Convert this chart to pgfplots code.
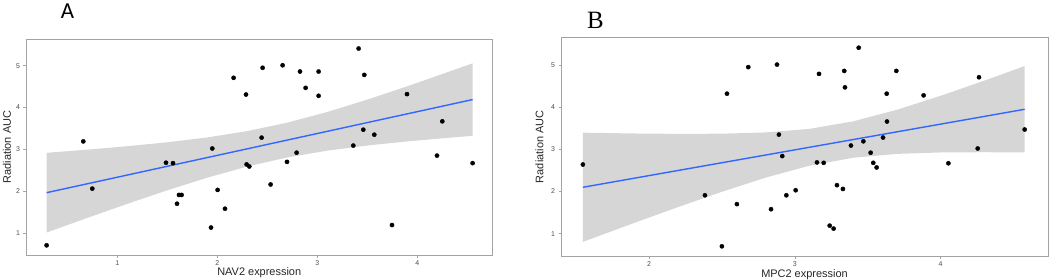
\documentclass[border=0pt]{standalone}
\usepackage{fontspec}
\setmainfont{Liberation Sans}
\newfontfamily\afont{Carlito}
\newfontfamily\bfont{Liberation Serif}
\usepackage{pgfplots}
\pgfplotsset{compat=1.18}
\definecolor{bandgray}{HTML}{999999}
\definecolor{fitblue}{HTML}{3366FF}
\definecolor{bordergray}{HTML}{A3A3A3}
\definecolor{ticktext}{HTML}{4D4D4D}
\pgfplotsset{panel/.style={
  scale only axis, anchor=south west,
  axis line style={bordergray, line width=0.9bp},
  tick style={bordergray, line width=0.6bp},
  tick align=outside, major tick length=2.5bp,
  xtick pos=bottom, ytick pos=left,
  tick label style={font=\fontsize{7}{8}\selectfont, text=ticktext},
  label style={font=\fontsize{11}{13}\selectfont, text=black!85},
  /pgf/number format/assume math mode=true,
  ytick={1,2,3,4,5},
  clip=true,
}}
\begin{document}
\begin{tikzpicture}
\useasboundingbox (0,0) rectangle (1050bp,280bp);
% ---------------- Panel A ----------------
\begin{axis}[panel, at={(26bp,25bp)}, width=466.5bp, height=216bp,
  xmin=0.087, xmax=4.752, ymin=0.474, ymax=5.638, xtick={1,2,3,4},
  xlabel={NAV2 expression}, ylabel={Radiation AUC},
  xlabel style={at={(axis description cs:0.5,0)}, anchor=center, yshift=-18bp},
  ylabel style={at={(axis description cs:-0.0407,0.5)}, anchor=center}]
\addplot[only marks, mark=*, mark size=2.1bp, black] coordinates {
(0.293,0.705)(0.660,3.19)(0.750,2.06)(1.487,2.68)(1.557,2.67)(1.597,1.70)
(1.617,1.91)(1.643,1.91)(1.937,1.13)(1.950,3.02)(2.003,2.03)(2.077,1.58)
(2.163,4.71)(2.287,4.31)(2.293,2.64)(2.320,2.59)(2.443,3.28)(2.453,4.95)
(2.533,2.16)(2.653,5.01)(2.697,2.70)(2.793,2.92)(2.827,4.86)(2.883,4.47)
(3.013,4.86)(3.013,4.28)(3.360,3.09)(3.413,5.41)(3.460,3.47)(3.470,4.78)
(3.570,3.35)(3.747,1.19)(3.897,4.32)(4.197,2.85)(4.250,3.67)(4.553,2.67)};
\addplot[draw=none, fill=bandgray, fill opacity=0.4] coordinates {
(0.293,2.917)(0.7,2.993)(1.1,3.075)(1.5,3.169)(1.9,3.285)(2.3,3.436)(2.7,3.638)
(3.1,3.893)(3.5,4.189)(3.9,4.508)(4.3,4.842)(4.553,5.057)
(4.553,3.323)(4.3,3.274)(3.9,3.190)(3.5,3.091)(3.1,2.969)(2.7,2.806)(2.3,2.590)
(1.9,2.323)(1.5,2.021)(1.1,1.697)(0.7,1.361)(0.293,1.011)};
\addplot[fitblue, line width=1.4bp] coordinates {(0.293,1.964)(4.553,4.190)};
\end{axis}
% ---------------- Panel B ----------------
\begin{axis}[panel, at={(561bp,24bp)}, width=487bp, height=218.3bp,
  xmin=1.397, xmax=4.736, ymin=0.470, ymax=5.648, xtick={2,3,4},
  xlabel={MPC2 expression}, ylabel={Radiation AUC},
  xlabel style={at={(axis description cs:0.5,0)}, anchor=center, yshift=-19bp},
  ylabel style={at={(axis description cs:-0.044,0.5)}, anchor=center}]
\addplot[only marks, mark=*, mark size=2.1bp, black] coordinates {
(1.547,2.64)(2.384,1.91)(2.500,0.70)(2.535,4.32)(2.603,1.70)(2.681,4.95)
(2.837,1.58)(2.878,5.01)(2.891,3.35)(2.914,2.84)(2.942,1.91)(3.006,2.03)
(3.152,2.69)(3.166,4.79)(3.198,2.68)(3.239,1.19)(3.266,1.12)(3.289,2.15)
(3.330,2.06)(3.339,4.86)(3.344,4.47)(3.385,3.09)(3.438,5.41)(3.470,3.19)
(3.520,2.92)(3.538,2.68)(3.561,2.57)(3.605,3.28)(3.630,4.32)(3.632,3.66)
(3.696,4.86)(3.883,4.28)(4.053,2.67)(4.254,3.02)(4.263,4.71)(4.576,3.47)};
\addplot[draw=none, fill=bandgray, fill opacity=0.4] coordinates {
(1.547,3.395)(1.9,3.376)(2.2,3.367)(2.5,3.371)(2.8,3.401)(3.1,3.485)(3.4,3.664)
(3.7,3.938)(4.0,4.270)(4.3,4.630)(4.576,4.975)
(4.576,2.925)(4.3,2.932)(4.0,2.926)(3.7,2.892)(3.4,2.800)(3.1,2.611)(2.8,2.329)
(2.5,1.993)(2.2,1.631)(1.9,1.256)(1.547,0.805)};
\addplot[fitblue, line width=1.4bp] coordinates {(1.547,2.100)(4.576,3.950)};
\end{axis}
% panel letters
\node[font=\afont\fontsize{23}{26}\selectfont, anchor=center] at (67.5bp,269bp) {A};
\node[font=\bfont\fontsize{25}{28}\selectfont, anchor=center] at (595.5bp,259.5bp) {B};
\end{tikzpicture}
\end{document}
